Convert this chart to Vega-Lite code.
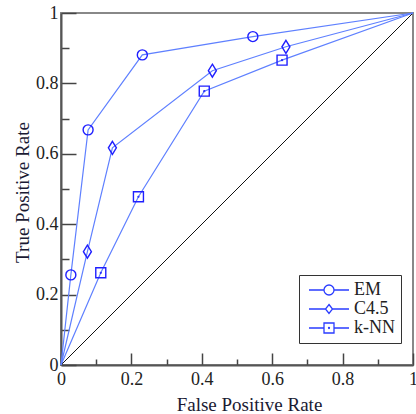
{
  "$schema": "https://vega.github.io/schema/vega-lite/v6.json",
  "width": 352,
  "height": 352,
  "autosize": {"type": "none"},
  "padding": {"left": 61, "top": 13, "right": 3, "bottom": 49},
  "background": "white",
  "config": {
    "view": {"stroke": "#888888", "strokeWidth": 2},
    "font": "Liberation Serif",
    "axis": {
      "grid": false,
      "domainColor": "#555555",
      "domainWidth": 2,
      "tickColor": "#444444",
      "tickWidth": 1.5,
      "labelFont": "Liberation Serif",
      "labelFontSize": 18,
      "labelColor": "#222222",
      "titleFont": "Liberation Serif",
      "titleFontSize": 19,
      "titleFontWeight": "normal",
      "titleColor": "#1a1a33"
    }
  },
  "datasets": {
    "roc": [
      {"method": "EM", "fpr": 0, "tpr": 0},
      {"method": "EM", "fpr": 0.028, "tpr": 0.256},
      {"method": "EM", "fpr": 0.077, "tpr": 0.668},
      {"method": "EM", "fpr": 0.231, "tpr": 0.881},
      {"method": "EM", "fpr": 0.545, "tpr": 0.933},
      {"method": "EM", "fpr": 1, "tpr": 1},
      {"method": "C4.5", "fpr": 0, "tpr": 0},
      {"method": "C4.5", "fpr": 0.075, "tpr": 0.322},
      {"method": "C4.5", "fpr": 0.146, "tpr": 0.617},
      {"method": "C4.5", "fpr": 0.43, "tpr": 0.836},
      {"method": "C4.5", "fpr": 0.639, "tpr": 0.904},
      {"method": "C4.5", "fpr": 1, "tpr": 1},
      {"method": "k-NN", "fpr": 0, "tpr": 0},
      {"method": "k-NN", "fpr": 0.113, "tpr": 0.262},
      {"method": "k-NN", "fpr": 0.22, "tpr": 0.478},
      {"method": "k-NN", "fpr": 0.407, "tpr": 0.778},
      {"method": "k-NN", "fpr": 0.628, "tpr": 0.866},
      {"method": "k-NN", "fpr": 1, "tpr": 1}
    ],
    "diag": [
      {"fpr": 0, "tpr": 0},
      {"fpr": 1, "tpr": 1}
    ]
  },
  "encoding": {
    "x": {
      "field": "fpr",
      "type": "quantitative",
      "scale": {"domain": [0, 1], "nice": false},
      "axis": {
        "title": "False Positive Rate",
        "values": [0, 0.1, 0.2, 0.3, 0.4, 0.5, 0.6, 0.7, 0.8, 0.9, 1],
        "labelExpr": "round(datum.value*10)%2==0 ? format(datum.value,'~g') : ''",
        "tickSize": -12,
        "labelPadding": 17,
        "labelBaseline": "top",
        "labelFlush": false,
        "titleX": 188,
        "titleY": 45,
        "titleBaseline": "alphabetic",
        "encoding": {
          "ticks": {"y2": {"condition": {"test": "round(datum.value*10)%2==1", "value": -6}, "value": -12}}
        }
      }
    },
    "y": {
      "field": "tpr",
      "type": "quantitative",
      "scale": {"domain": [0, 1], "nice": false},
      "axis": {
        "title": "True Positive Rate",
        "values": [0, 0.1, 0.2, 0.3, 0.4, 0.5, 0.6, 0.7, 0.8, 0.9, 1],
        "labelExpr": "round(datum.value*10)%2==0 ? format(datum.value,'~g') : ''",
        "tickSize": -15,
        "labelPadding": 18,
        "labelFlush": false,
        "titleX": -33,
        "titleY": 179,
        "titleBaseline": "alphabetic",
        "titleAngle": -90,
        "titleAlign": "center",
        "encoding": {
          "ticks": {"x2": {"condition": {"test": "round(datum.value*10)%2==1", "value": 8}, "value": 15}}
        }
      }
    }
  },
  "layer": [
    {
      "data": {"name": "diag"},
      "mark": {"type": "line", "color": "#111111", "strokeWidth": 1},
      "encoding": {}
    },
    {
      "data": {"name": "roc"},
      "mark": {"type": "line", "color": "#5f80ff", "strokeWidth": 1.2},
      "encoding": {"detail": {"field": "method"}}
    },
    {
      "data": {"name": "roc"},
      "transform": [{"filter": "datum.fpr > 0 && datum.fpr < 1"}],
      "mark": {"type": "point", "filled": false, "stroke": "#1f1fff", "strokeWidth": 1.4, "size": 100, "opacity": 1},
      "encoding": {
        "shape": {
          "field": "method",
          "scale": {
            "domain": ["EM", "C4.5", "k-NN"],
            "range": [
              "M1,0A1,1 0 1,1 -1,0A1,1 0 1,1 1,0Z",
              "M0,-1.3L0.8,0L0,1.3L-0.8,0Z",
              "M-1,-1H1V1H-1Z M0.08,0A0.08,0.08 0 1,1 -0.08,0A0.08,0.08 0 1,1 0.08,0Z"
            ]
          },
          "legend": null
        }
      }
    },
    {
      "data": {"name": "roc"},
      "transform": [{"filter": "datum.fpr > 0 && datum.fpr < 1"}],
      "mark": {"type": "point", "filled": false, "stroke": "#1f1fff", "opacity": 0, "size": 100},
      "encoding": {
        "shape": {
          "field": "method",
          "scale": {
            "domain": ["EM", "C4.5", "k-NN"],
            "range": [
              "M-1,0H2M4,0H7M4,0A1,1 0 1,1 2,0A1,1 0 1,1 4,0Z",
              "M-1,0H2.3M3.7,0H7M3,-0.9L3.7,0L3,0.9L2.3,0Z",
              "M-1,0H2M4,0H7M2,-1H4V1H2Z M3.1,0A0.1,0.1 0 1,1 2.9,0A0.1,0.1 0 1,1 3.1,0Z"
            ]
          },
          "legend": {
            "title": null,
            "orient": "none",
            "legendX": 238,
            "legendY": 262,
            "padding": 6,
            "strokeColor": "#333333",
            "symbolSize": 100,
            "symbolOpacity": 1,
            "symbolStrokeColor": "#2a3cff",
            "symbolFillColor": "transparent",
            "symbolStrokeWidth": 1.3,
            "labelFont": "Liberation Serif",
            "labelFontSize": 18,
            "labelColor": "#222222",
            "labelOffset": 31,
            "rowPadding": 1
          }
        }
      }
    }
  ],
  "resolve": {"scale": {"shape": "independent"}}
}
